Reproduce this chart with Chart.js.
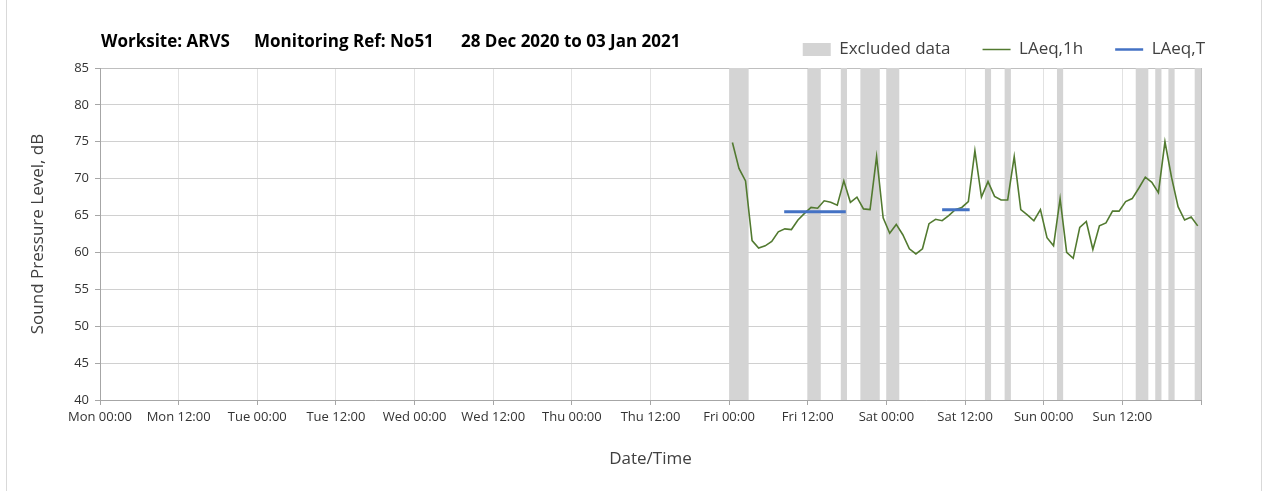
<!DOCTYPE html>
<html>
<head>
<meta charset="utf-8">
<title>Noise monitoring N051</title>
<script src="https://cdn.jsdelivr.net/npm/chart.js@4.4.1/dist/chart.umd.min.js"></script>
<style>
  html, body { margin: 0; padding: 0; background: #fff; }
  #wrap { position: relative; width: 1263px; height: 491px; overflow: hidden; }
  #frame { position: absolute; left: 6px; top: 0; width: 1256px; height: 491px;
           border-left: 1px solid #d9d9d9; border-right: 1px solid #d9d9d9;
           box-sizing: border-box; pointer-events: none; }
  canvas { position: absolute; left: 0; top: 0; }
</style>
</head>
<body>
<div id="wrap">
  <canvas id="chart" width="1263" height="491"></canvas>
  <div id="frame"></div>
</div>
<script>
// Hours are counted from Mon 00:00 of the monitoring week.
const tickLabels = ['Mon 00:00', 'Mon 12:00', 'Tue 00:00', 'Tue 12:00', 'Wed 00:00', 'Wed 12:00',
                    'Thu 00:00', 'Thu 12:00', 'Fri 00:00', 'Fri 12:00', 'Sat 00:00', 'Sat 12:00',
                    'Sun 00:00', 'Sun 12:00'];
const headerParts = ['Worksite: ARVS', 'Monitoring Ref: No51', '28 Dec 2020 to 03 Jan 2021'];

// Hourly LAeq,1h from Fri 00:00 (hour 96) to Sun 23:00 (hour 167), dB
const firstHour = 96;
const laeq1h = [
  74.9, 71.4, 69.7, 61.6, 60.6, 60.9, 61.5, 62.8, 63.2, 63.1, 64.4, 65.3,
  66.1, 66.0, 67.0, 66.8, 66.4, 69.7, 66.8, 67.5, 65.9, 65.8, 73.0, 64.7,
  62.6, 63.8, 62.4, 60.5, 59.8, 60.5, 63.9, 64.5, 64.3, 65.0, 65.8, 66.1,
  66.9, 73.8, 67.5, 69.6, 67.6, 67.1, 67.1, 73.0, 65.8, 65.1, 64.3, 65.8,
  62.0, 60.9, 67.3, 60.0, 59.2, 63.4, 64.2, 60.4, 63.6, 64.0, 65.6, 65.6,
  66.9, 67.3, 68.7, 70.2, 69.5, 68.1, 75.0, 70.2, 66.2, 64.4, 64.8, 63.6
];

// Periods excluded from the assessment (start / end hour)
const excludedStart = [96, 108, 113, 116, 120, 135, 138, 146, 158, 161, 163, 167];
const excludedEnd   = [99, 110, 114, 119, 122, 136, 139, 147, 160, 162, 164, 168];

// LAeq,T over each assessment period
const laeqTStart = [104.4, 128.5];
const laeqTEnd   = [113.8, 132.7];
const laeqTValue = [65.5, 65.8];

const yMin = 40, yMax = 85;

// ---- build datasets from the arrays above ----
const hourlyPoints = laeq1h.map((v, i) => ({ x: firstHour + i + 0.5, y: v }));

const excludedPoints = [];
excludedStart.forEach((s, i) => {
  excludedPoints.push({ x: s, y: yMax }, { x: excludedEnd[i], y: yMax }, { x: excludedEnd[i], y: null });
});

const laeqTPoints = [];
laeqTStart.forEach((s, i) => {
  if (i > 0) laeqTPoints.push({ x: s, y: null });
  laeqTPoints.push({ x: s, y: laeqTValue[i] }, { x: laeqTEnd[i], y: laeqTValue[i] });
});

Chart.defaults.font.family = '"Open Sans", sans-serif';
Chart.defaults.color = '#333';

const headerPlugin = {
  id: 'header',
  afterDraw(chart) {
    const ctx = chart.ctx;
    const xs = [101, 254, 461];
    ctx.save();
    ctx.font = 'bold 17px "Open Sans", sans-serif';
    ctx.fillStyle = '#000';
    ctx.textBaseline = 'middle';
    headerParts.forEach((t, i) => ctx.fillText(t, xs[i], 42));
    ctx.restore();
  }
};

const edgeGrid = '#bfbfbf';

new Chart(document.getElementById('chart'), {
  type: 'line',
  data: {
    datasets: [
      {
        label: 'Excluded data',
        data: excludedPoints,
        borderWidth: 0,
        borderColor: 'rgba(0,0,0,0)',
        backgroundColor: '#d4d4d4',
        fill: { target: { value: yMin } },
        pointRadius: 0,
        spanGaps: false,
        legendStyle: 'rect',
        legendLineWidth: 0,
        order: 3
      },
      {
        label: 'LAeq,1h',
        data: hourlyPoints,
        borderColor: '#527a30',
        backgroundColor: '#527a30',
        borderWidth: 1.6,
        pointRadius: 0,
        fill: false,
        tension: 0,
        legendStyle: 'line',
        legendLineWidth: 1.5,
        order: 2
      },
      {
        label: 'LAeq,T',
        data: laeqTPoints,
        borderColor: '#4472c4',
        backgroundColor: '#4472c4',
        borderWidth: 3,
        pointRadius: 0,
        fill: false,
        spanGaps: false,
        legendStyle: 'line',
        legendLineWidth: 2.5,
        order: 1
      }
    ]
  },
  options: {
    responsive: false,
    animation: false,
    events: [],
    layout: { padding: { top: 2.5, right: 26, bottom: 0, left: 0 } },
    plugins: {
      tooltip: { enabled: false },
      title: { display: false },
      legend: {
        position: 'top',
        align: 'end',
        labels: {
          usePointStyle: true,
          pointStyleWidth: 28,
          boxHeight: 13,
          padding: 32,
          color: '#404040',
          font: { size: 17 },
          generateLabels(chart) {
            return chart.data.datasets.map((ds, i) => ({
              text: ds.label,
              fillStyle: ds.backgroundColor,
              strokeStyle: ds.borderColor,
              lineWidth: ds.legendLineWidth,
              pointStyle: ds.legendStyle,
              fontColor: '#404040',
              hidden: false,
              datasetIndex: i
            }));
          }
        }
      }
    },
    scales: {
      x: {
        type: 'linear',
        min: 0,
        max: 168,
        afterFit(scale) { scale.height = 91; scale.paddingRight = 62; },
        ticks: {
          stepSize: 12,
          autoSkip: false,
          maxRotation: 0,
          padding: 4,
          color: '#333',
          font: { size: 13 },
          callback: (v) => tickLabels[v / 12] || ''
        },
        grid: {
          color: (c) => (c.tick && c.tick.value === 168 ? edgeGrid : '#e2e2e2'),
          tickColor: '#a6a6a6',
          tickLength: 5
        },
        border: { color: '#a6a6a6', width: 1 },
        title: {
          display: true,
          text: 'Date/Time',
          color: '#404040',
          font: { size: 17 },
          padding: { top: 0, bottom: 22 }
        }
      },
      y: {
        min: yMin,
        max: yMax,
        afterFit(scale) { scale.width = 100; scale.paddingTop = 68; },
        ticks: {
          stepSize: 5,
          padding: 6,
          color: '#333',
          font: { size: 13 }
        },
        grid: {
          color: (c) => (c.tick && c.tick.value === yMax ? edgeGrid : '#d0d0d0'),
          tickColor: '#a6a6a6',
          tickLength: 5
        },
        border: { color: '#a6a6a6', width: 1 },
        title: {
          display: true,
          text: 'Sound Pressure Level, dB',
          color: '#404040',
          font: { size: 17 },
          padding: { top: 28, bottom: 0 }
        }
      }
    }
  },
  plugins: [headerPlugin]
});
</script>
</body>
</html>
